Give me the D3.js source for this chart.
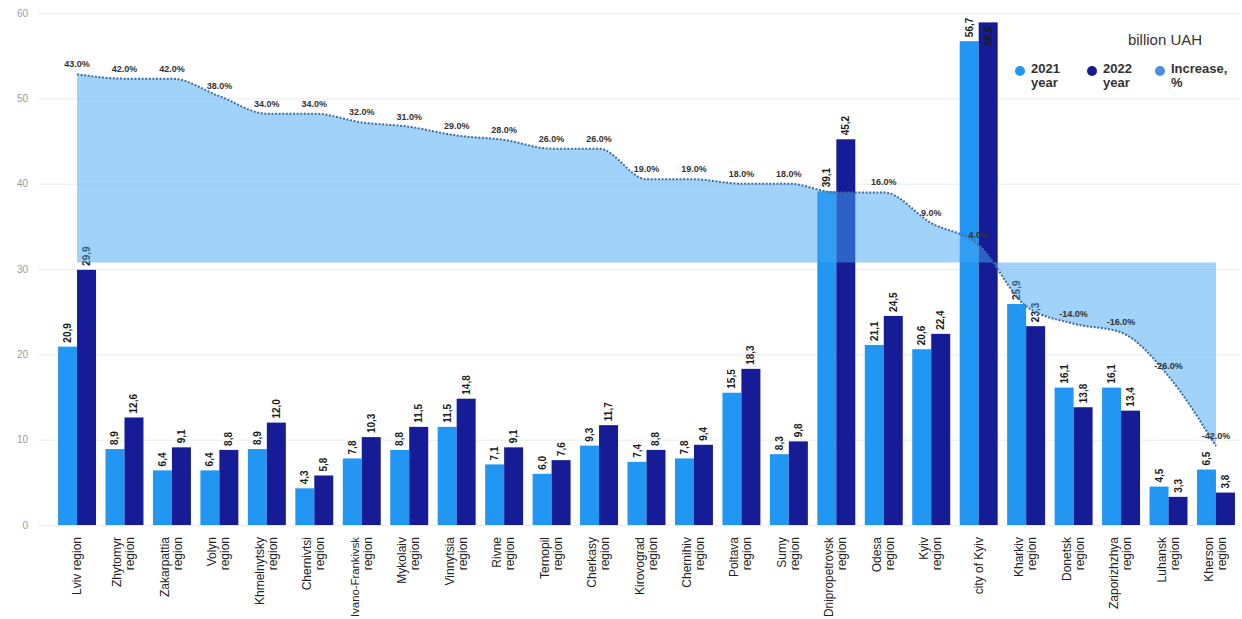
<!DOCTYPE html>
<html><head><meta charset="utf-8">
<script src="https://cdn.jsdelivr.net/npm/d3@7"></script>
<style>
html,body{margin:0;padding:0;background:#fff;}
svg{display:block;font-family:"Liberation Sans",Arial,sans-serif;}
</style></head>
<body>
<svg id="chart" width="1242" height="619"></svg>
<script>
const categories = ["Lviv region","Zhytomyr region","Zakarpattia region","Volyn region","Khmelnytsky region","Chernivtsi region","Ivano-Frankivsk region","Mykolaiv region","Vinnytsia region","Rivne region","Ternopil region","Cherkasy region","Kirovograd region","Chernihiv region","Poltava region","Sumy region","Dnipropetrovsk region","Odesa region","Kyiv region","city of Kyiv","Kharkiv region","Donetsk region","Zaporizhzhya region","Luhansk region","Kherson region"];
const values2021 = [20.9,8.9,6.4,6.4,8.9,4.3,7.8,8.8,11.5,7.1,6.0,9.3,7.4,7.8,15.5,8.3,39.1,21.1,20.6,56.7,25.9,16.1,16.1,4.5,6.5];
const values2022 = [29.9,12.6,9.1,8.8,12.0,5.8,10.3,11.5,14.8,9.1,7.6,11.7,8.8,9.4,18.3,9.8,45.2,24.5,22.4,58.9,23.3,13.8,13.4,3.3,3.8];
const increasePct = [43,42,42,38,34,34,32,31,29,28,26,26,19,19,18,18,16,16,9,4,-10,-14,-16,-26,-42];
const yTicks = [0,10,20,30,40,50,60];
const seriesNames = ["2021 year","2022 year","Increase, %"];
const unitLabel = "billion UAH";

const svg = d3.select("#chart");
const yTop = 13, yBottom = 525;

const x = d3.scaleBand().domain(categories).range([53.3, 1239.7]).paddingInner(0.2).paddingOuter(0.1);
const xs = d3.scaleBand().domain(["2021","2022"]).range([0, x.bandwidth()]);
const y = d3.scaleLinear().domain([0,60]).range([yBottom, yTop]);
const yP = d3.scaleLinear().domain([-60,57]).range([yBottom, yTop]);

const colors = {"2021":"#2196f3","2022":"#161c96",pct:"#4b8fe3"};
const fmt = v => v.toFixed(1).replace(".", ",");

// grid + y axis
const yAxis = d3.axisLeft(y).tickValues(yTicks).tickSize(-(1240-38)).tickPadding(10);
const gy = svg.append("g").attr("transform","translate(38,0)").call(yAxis);
gy.select(".domain").remove();
gy.selectAll(".tick line").attr("stroke","#ececec");
gy.selectAll(".tick text").attr("fill","#9a9a9a").attr("font-size","10px").attr("x",-10);

// bars
const groups = svg.append("g").selectAll("g").data(categories).join("g")
  .attr("transform", d => `translate(${x(d)},0)`);
const barData = (d,i) => [{k:"2021",v:values2021[i]},{k:"2022",v:values2022[i]}];
groups.each(function(d,i){
  const g = d3.select(this);
  const bd = barData(d,i);
  g.selectAll("rect").data(bd).join("rect")
    .attr("x", b => xs(b.k)).attr("width", xs.bandwidth())
    .attr("y", b => y(b.v)).attr("height", b => yBottom - y(b.v))
    .attr("fill", b => colors[b.k]);
  g.selectAll("text.val").data(bd).join("text").attr("class","val")
    .attr("transform", b => {
      const cx = xs(b.k) + xs.bandwidth()/2 + 3.5;
      const inside = b.v > 57;
      const ty = inside ? y(b.v) + 4 : y(b.v) - 4;
      return `translate(${cx},${ty}) rotate(-90)`;
    })
    .attr("text-anchor", b => b.v > 57 ? "end" : "start")
    .attr("font-size","10px").attr("font-weight","bold").attr("fill","#1a1a1a")
    .text(b => fmt(b.v));
});

// area + line (secondary axis)
const cxOf = i => x(categories[i]) + x.bandwidth()/2;
const area = d3.area().x((d,i)=>cxOf(i)).y0(yP(0)).y1(d=>yP(d)).curve(d3.curveMonotoneX);
svg.append("path").datum(increasePct).attr("d", area).attr("fill","rgba(66,165,245,0.5)");
const line = d3.line().x((d,i)=>cxOf(i)).y(d=>yP(d)).curve(d3.curveMonotoneX);
svg.append("path").datum(increasePct).attr("d", line).attr("fill","none")
  .attr("stroke","#3f6d9f").attr("stroke-width",2).attr("stroke-dasharray","2,1.6");

// percentage labels, hidden where they would collide with a bar value label
const valBoxes = [];
svg.selectAll("text.val").each(function(){ valBoxes.push(this.getBoundingClientRect()); });
const overlaps = (a,b) => !(a.right < b.left || b.right < a.left || a.bottom < b.top || b.bottom < a.top);
svg.append("g").selectAll("text").data(increasePct).join("text")
  .attr("x",(d,i)=>cxOf(i)).attr("y", d=>yP(d)-7)
  .attr("text-anchor","middle").attr("font-size","9px").attr("font-weight","bold").attr("fill","#333")
  .text(d => d.toFixed(1) + "%")
  .each(function(){
    const r = this.getBoundingClientRect();
    if (valBoxes.some(b => overlaps(r,b))) d3.select(this).remove();
  });

// x labels
const xl = svg.append("g").selectAll("g").data(categories).join("g")
  .attr("transform", d => `translate(${x(d)+x.bandwidth()/2},537) rotate(-90)`);
xl.each(function(d){
  const g = d3.select(this);
  let lines;
  if (d === "Lviv region" || d === "city of Kyiv") lines = [d];
  else { const p = d.lastIndexOf(" "); lines = [d.slice(0,p), d.slice(p+1)]; }
  const offs = lines.length === 1 ? [4] : [-3, 10];
  lines.forEach((t,j) => {
    const tx = g.append("text").attr("x",0).attr("y",offs[j])
      .attr("text-anchor","end").attr("font-size","12px").attr("fill","#222").text(t);
    const len = tx.node().getComputedTextLength();
    const maxLen = 619 - 537 - 2;
    if (len > maxLen) tx.attr("font-size", (12*maxLen/len).toFixed(2)+"px");
  });
});

// legend
svg.append("text").attr("x",1165).attr("y",45).attr("text-anchor","middle")
  .attr("font-size","15px").attr("fill","#333").text(unitLabel);
const lgX = [1020, 1092, 1160];
const lgC = [colors["2021"], colors["2022"], colors.pct];
const lgLines = [["2021","year"],["2022","year"],["Increase,","%"]];
seriesNames.forEach((n,i) => {
  svg.append("circle").attr("cx",lgX[i]).attr("cy",71).attr("r",5).attr("fill",lgC[i]);
  lgLines[i].forEach((t,j) => svg.append("text").attr("x",lgX[i]+11).attr("y",73+j*14)
    .attr("font-size","13px").attr("font-weight","bold").attr("fill","#333").text(t));
});
</script>
</body></html>
